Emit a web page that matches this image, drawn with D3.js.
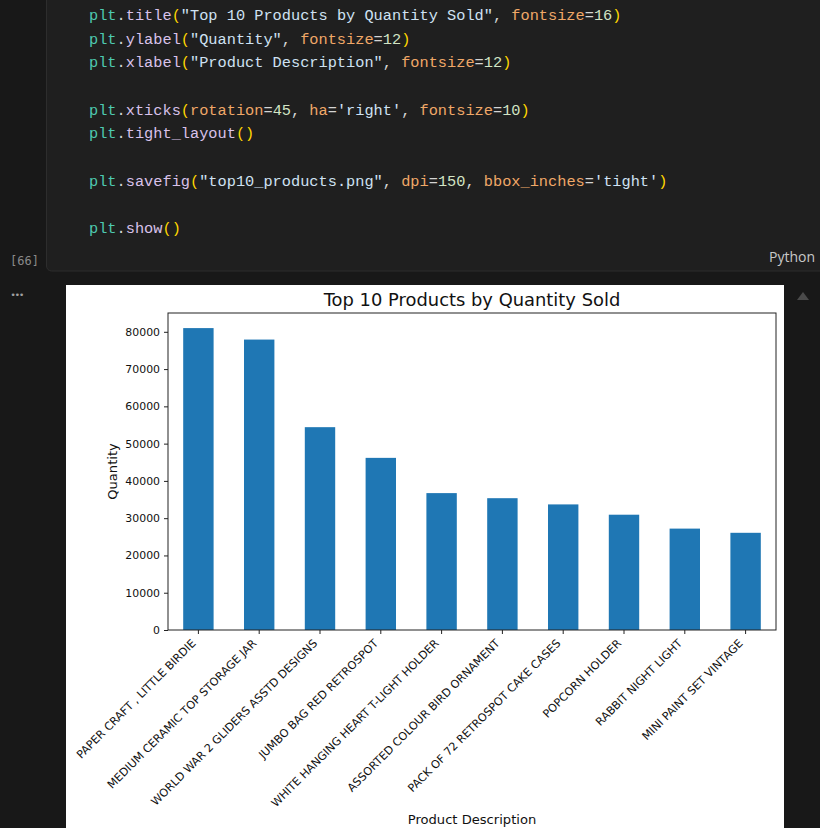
<!DOCTYPE html>
<html>
<head>
<meta charset="utf-8">
<script src="https://cdn.jsdelivr.net/npm/d3@7"></script>
<style>
html, body { margin: 0; padding: 0; background: #181818; overflow: hidden; }
svg { display: block; }
</style>
</head>
<body>
<script>
// ---- data ----
const products = [
  "PAPER CRAFT , LITTLE BIRDIE",
  "MEDIUM CERAMIC TOP STORAGE JAR",
  "WORLD WAR 2 GLIDERS ASSTD DESIGNS",
  "JUMBO BAG RED RETROSPOT",
  "WHITE HANGING HEART T-LIGHT HOLDER",
  "ASSORTED COLOUR BIRD ORNAMENT",
  "PACK OF 72 RETROSPOT CAKE CASES",
  "POPCORN HOLDER",
  "RABBIT NIGHT LIGHT",
  "MINI PAINT SET VINTAGE"
];
const quantities = [80995, 77916, 54415, 46181, 36725, 35362, 33693, 30931, 27202, 26076];
const yTicks = [0, 10000, 20000, 30000, 40000, 50000, 60000, 70000, 80000];

const chartTitle = "Top 10 Products by Quantity Sold";
const yLabel = "Quantity";
const xLabel = "Product Description";

// code cell text: [line index, tokens]
const codeLines = [
  [0, [["plt","mod"],[".","p"],["title","fn"],["(","br"],["\"Top 10 Products by Quantity Sold\"","str"],[", ","p"],["fontsize","kw"],["=","p"],["16","num"],[")","br"]]],
  [1, [["plt","mod"],[".","p"],["ylabel","fn"],["(","br"],["\"Quantity\"","str"],[", ","p"],["fontsize","kw"],["=","p"],["12","num"],[")","br"]]],
  [2, [["plt","mod"],[".","p"],["xlabel","fn"],["(","br"],["\"Product Description\"","str"],[", ","p"],["fontsize","kw"],["=","p"],["12","num"],[")","br"]]],
  [4, [["plt","mod"],[".","p"],["xticks","fn"],["(","br"],["rotation","kw"],["=","p"],["45","num"],[", ","p"],["ha","kw"],["=","p"],["'right'","str"],[", ","p"],["fontsize","kw"],["=","p"],["10","num"],[")","br"]]],
  [5, [["plt","mod"],[".","p"],["tight_layout","fn"],["()","br"]]],
  [7, [["plt","mod"],[".","p"],["savefig","fn"],["(","br"],["\"top10_products.png\"","str"],[", ","p"],["dpi","kw"],["=","p"],["150","num"],[", ","p"],["bbox_inches","kw"],["=","p"],["'tight'","str"],[")","br"]]],
  [9, [["plt","mod"],[".","p"],["show","fn"],["()","br"]]]
];
const tokenColors = { mod: "#4ec9b0", p: "#d4d4d4", fn: "#d9c2ea", br: "#ffd700", str: "#cfe2f3", kw: "#f0a868", num: "#d2e4c4" };

// ---- page ----
const W = 820, H = 828;
const svg = d3.select("body").append("svg").attr("width", W).attr("height", H);

svg.append("rect").attr("width", W).attr("height", H).attr("fill", "#181818");

// code cell
svg.append("rect").attr("x", 46.5).attr("y", -10).attr("width", 790).attr("height", 281)
  .attr("rx", 5).attr("fill", "#1f1f1f").attr("stroke", "#2d2d2d").attr("stroke-width", 1);

const code = svg.append("g").attr("font-family", "'Liberation Mono', 'DejaVu Sans Mono', monospace")
  .attr("font-size", 15.3);
codeLines.forEach(([li, toks]) => {
  const t = code.append("text").attr("x", 89).attr("y", 20 + li * 23.67).attr("xml:space", "preserve");
  toks.forEach(([s, c]) => t.append("tspan").attr("fill", tokenColors[c]).text(s));
});

svg.append("text").attr("x", 10).attr("y", 265).attr("fill", "#8a8a8a")
  .attr("font-family", "'DejaVu Sans Mono', monospace").attr("font-size", 12).text("[66]");
svg.append("text").attr("x", 815).attr("y", 262).attr("text-anchor", "end").attr("fill", "#c8c8c8")
  .attr("font-family", "'Open Sans', 'Noto Sans', sans-serif").attr("font-size", 14).text("Python");
svg.append("text").attr("x", 11).attr("y", 296).attr("fill", "#a0a0a0")
  .attr("font-family", "'Noto Sans', sans-serif").attr("font-size", 15).attr("font-weight", "bold").text("...");
svg.append("path").attr("d", "M797,300 L803,292 L809,300 Z").attr("fill", "#4a4a4a");

// figure panel
svg.append("rect").attr("x", 66).attr("y", 285).attr("width", 718).attr("height", 560).attr("fill", "#ffffff");

// ---- chart ----
const L = 168, R = 776, T = 313, B = 630;
const x = d3.scaleBand().domain(products).range([L, R]).paddingInner(0.5).paddingOuter(0.25);
const y = d3.scaleLinear().domain([0, d3.max(quantities) * 1.05]).range([B, T]);

const fontMain = "'DejaVu Sans', sans-serif";
const g = svg.append("g").attr("font-family", fontMain);

g.selectAll("rect.bar").data(quantities).join("rect")
  .attr("class", "bar")
  .attr("x", (d, i) => x(products[i]))
  .attr("y", d => y(d))
  .attr("width", x.bandwidth())
  .attr("height", d => y(0) - y(d))
  .attr("fill", "#1f77b4");

// y axis
const yAxis = g.append("g").attr("transform", `translate(${L},0)`)
  .call(d3.axisLeft(y).tickValues(yTicks).tickFormat(d3.format("d")).tickSize(4).tickPadding(4));
yAxis.select(".domain").remove();
yAxis.selectAll("text").attr("font-size", 10.9).attr("fill", "#111").attr("font-family", fontMain);
yAxis.selectAll("line").attr("stroke", "#222");

// x axis
const xAxis = g.append("g").attr("transform", `translate(0,${B})`)
  .call(d3.axisBottom(x).tickSize(4).tickFormat(""));
xAxis.select(".domain").remove();
xAxis.selectAll("line").attr("stroke", "#222");

g.selectAll("text.xlab").data(products).join("text")
  .attr("class", "xlab")
  .attr("transform", d => `translate(${x(d) + x.bandwidth() / 2 - 2},${B + 14}) rotate(-45)`)
  .attr("text-anchor", "end")
  .attr("font-size", 11.2)
  .attr("fill", "#111")
  .text(d => d);

// frame
g.append("rect").attr("x", L).attr("y", T).attr("width", R - L).attr("height", B - T)
  .attr("fill", "none").attr("stroke", "#222").attr("stroke-width", 1);

// title & labels
g.append("text").attr("x", (L + R) / 2).attr("y", 306).attr("text-anchor", "middle")
  .attr("font-size", 17.9).attr("fill", "#111").text(chartTitle);
g.append("text").attr("transform", `translate(117,${(T + B) / 2}) rotate(-90)`).attr("text-anchor", "middle")
  .attr("font-size", 13.1).attr("fill", "#111").text(yLabel);
g.append("text").attr("x", (L + R) / 2).attr("y", 824).attr("text-anchor", "middle")
  .attr("font-size", 13.1).attr("fill", "#111").text(xLabel);
</script>
</body>
</html>
